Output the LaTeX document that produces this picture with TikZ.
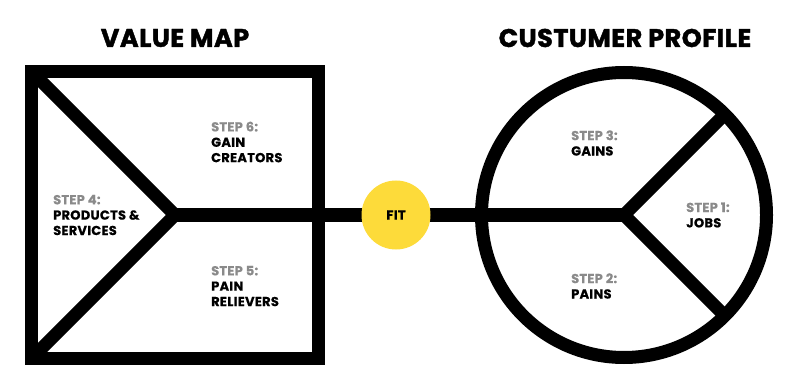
\documentclass[tikz,border=0pt]{standalone}
\usepackage{fontspec}
\setmainfont{Poppins}
\newfontfamily\headfont{Poppins}[BoldFeatures={FakeBold=1.6, LetterSpace=2}]
\newfontfamily\stepfont{Poppins}[BoldFeatures={FakeBold=0.6, LetterSpace=2}]
\usepackage{tikz}
\usetikzlibrary{positioning, calc}
\definecolor{fityellow}{HTML}{FDDB3A}
\definecolor{stepgray}{HTML}{8A8A8A}

\begin{document}
\begin{tikzpicture}[
    x=1pt, y=-1pt,
    frame/.style  = {draw=black, line width=13pt, outer sep=0pt,
                     inner sep=0pt},
    spoke/.style  = {line width=13pt, line cap=butt},
    title/.style  = {font=\headfont\fontsize{25.5}{28}\selectfont\bfseries},
    lbl/.style    = {anchor=west, align=left, inner sep=0pt,
                     font=\stepfont\fontsize{13}{15.4}\selectfont\bfseries},
    fitdot/.style = {circle, fill=fityellow, minimum size=69pt,
                     inner sep=0pt, font=\stepfont\fontsize{13}{15}\selectfont\bfseries}
  ]
  \useasboundingbox (0,0) rectangle (800,390);

  %% Value map
  \node[frame, rectangle, minimum width=287pt, minimum height=287pt]
       (vmap) at (175,215) {};
  \node[title] (vmtitle) at (175,38) {VALUE MAP};
  \draw[spoke] (vmap.north west) -- (vmap.center) -- (vmap.south west);

  %% Customer profile
  \node[frame, circle, minimum size=285pt] (cprof) at (624,215) {};
  \node[title] (cptitle) at (625,38) {CUSTUMER PROFILE};
  \draw[spoke] (cprof.45) -- (cprof.center) -- (cprof.-45);

  %% Fit
  \draw[spoke] (vmap.center) -- (cprof.center);
  \node[fitdot] (fit) at (396,215) {FIT};

  %% Labels
  \node[lbl] (gc) at (211,142) {\textcolor{stepgray}{STEP 6:}\\GAIN\\CREATORS};
  \node[lbl] (ps) at (53,215)  {\textcolor{stepgray}{STEP 4:}\\PRODUCTS \&\\SERVICES};
  \node[lbl] (pr) at (211,286) {\textcolor{stepgray}{STEP 5:}\\PAIN\\RELIEVERS};
  \node[lbl] (gn) at (571,143) {\textcolor{stepgray}{STEP 3:}\\GAINS};
  \node[lbl] (jb) at (686,215) {\textcolor{stepgray}{STEP 1:}\\JOBS};
  \node[lbl] (pn) at (571,286) {\textcolor{stepgray}{STEP 2:}\\PAINS};

\end{tikzpicture}
\end{document}
